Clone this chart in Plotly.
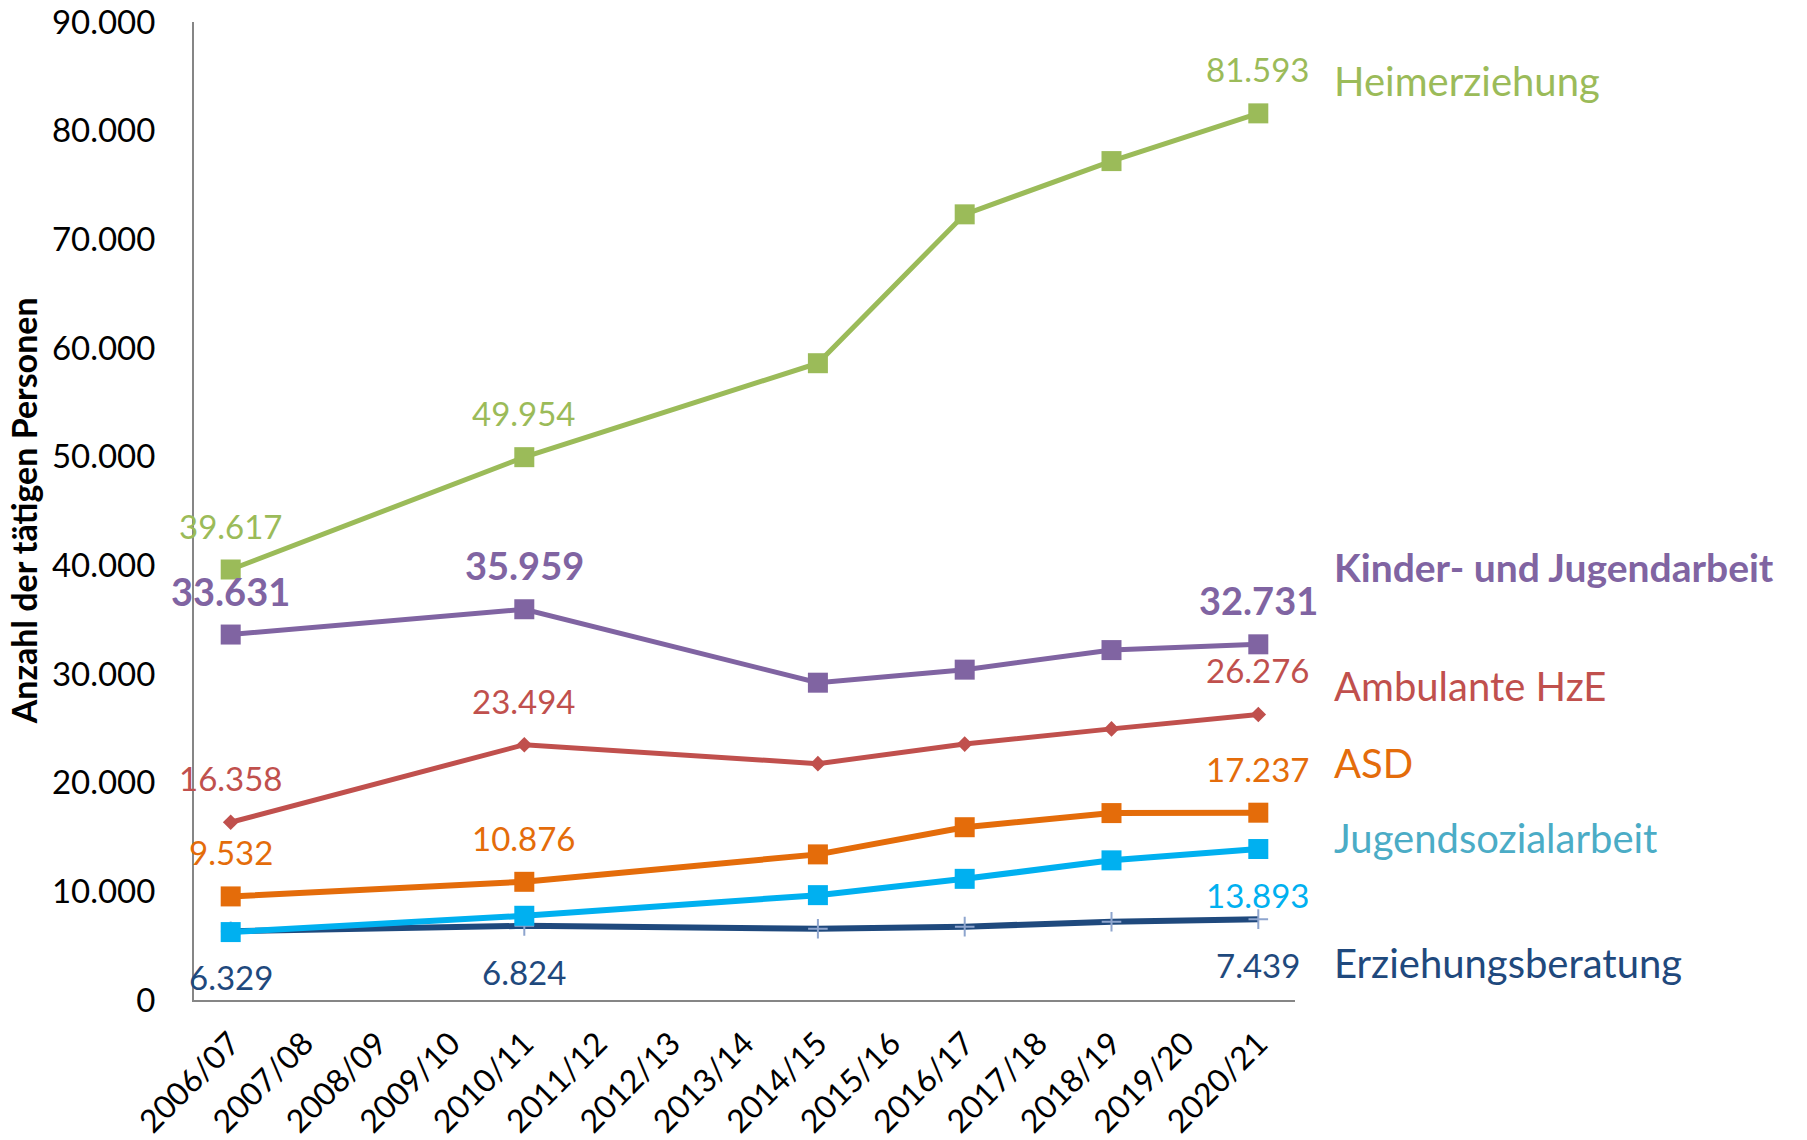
import plotly.graph_objects as go

# school years on the x axis
years = ["2006/07", "2007/08", "2008/09", "2009/10", "2010/11", "2011/12", "2012/13",
         "2013/14", "2014/15", "2015/16", "2016/17", "2017/18", "2018/19", "2019/20", "2020/21"]

# persons employed per field (None = no survey that year)
heimerziehung = [39617, None, None, None, 49954, None, None, None, 58600, None, 72300, None, 77200, None, 81593]
kinder_jugendarbeit = [33631, None, None, None, 35959, None, None, None, 29200, None, 30400, None, 32200, None, 32731]
ambulante_hze = [16358, None, None, None, 23494, None, None, None, 21750, None, 23550, None, 24950, None, 26276]
asd = [9532, None, None, None, 10876, None, None, None, 13400, None, 15900, None, 17200, None, 17237]
jugendsozialarbeit = [6250, None, None, None, 7750, None, None, None, 9650, None, 11150, None, 12850, None, 13893]
erziehungsberatung = [6329, None, None, None, 6824, None, None, None, 6550, None, 6750, None, 7200, None, 7439]

y_ticks = [0, 10000, 20000, 30000, 40000, 50000, 60000, 70000, 80000, 90000]

FONT = "Lato"


def de_num(v):
    return f"{v:,.0f}".replace(",", ".")


# drawing order: bottom series first so the cyan squares sit on the navy line
series = [
    dict(name="Erziehungsberatung", values=erziehungsberatung, color="#1F497D", symbol="cross-thin",
         msize=14, mline="#8EA5CE", width=6, labels=[0, 4, 14], side="below", bold=False,
         tag_color="#1F497D", tag_y=3400),
    dict(name="Jugendsozialarbeit", values=jugendsozialarbeit, color="#00B0F0", symbol="square",
         msize=20, mline=None, width=6, labels=[14], side="below", bold=False,
         tag_color="#4BACC6", tag_y=14900),
    dict(name="ASD", values=asd, color="#E46C0A", symbol="square",
         msize=20, mline=None, width=6, labels=[0, 4, 14], side="above", bold=False,
         tag_color="#E46C0A", tag_y=21800),
    dict(name="Ambulante HzE", values=ambulante_hze, color="#C0504D", symbol="diamond",
         msize=12, mline=None, width=5, labels=[0, 4, 14], side="above", bold=False,
         tag_color="#C0504D", tag_y=28900),
    dict(name="Kinder- und Jugendarbeit", values=kinder_jugendarbeit, color="#8064A2", symbol="square",
         msize=20, mline=None, width=5, labels=[0, 4, 14], side="above", bold=True,
         tag_color="#8064A2", tag_y=39850),
    dict(name="Heimerziehung", values=heimerziehung, color="#9BBB59", symbol="square",
         msize=20, mline=None, width=5, labels=[0, 4, 14], side="above", bold=False,
         tag_color="#9BBB59", tag_y=84600),
]

fig = go.Figure()
annotations = []

for s in series:
    marker = dict(symbol=s["symbol"], size=s["msize"], color=s["color"])
    if s["mline"]:
        marker["line"] = dict(color=s["mline"], width=2)
    fig.add_trace(go.Scatter(
        x=years, y=s["values"], name=s["name"], mode="lines+markers",
        connectgaps=True, line=dict(color=s["color"], width=s["width"]),
        marker=marker, cliponaxis=False, hoverinfo="x+y+name",
    ))
    # value labels
    for i in s["labels"]:
        v = s["values"][i]
        text = de_num(v)
        if s["bold"]:
            text = f"<b>{text}</b>"
        annotations.append(dict(
            x=years[i], y=v, xref="x", yref="y", text=text, showarrow=False,
            yshift=44 if s["side"] == "above" else -46,
            font=dict(family=FONT, size=38 if s["bold"] else 33, color=s["color"]),
            xanchor="center", yanchor="middle",
        ))
    # series name at right
    name = f"<b>{s['name']}</b>" if s["bold"] else s["name"]
    annotations.append(dict(
        x=1.034, y=s["tag_y"], xref="paper", yref="y", text=name, showarrow=False,
        xanchor="left", yanchor="middle",
        font=dict(family=FONT, size=39 if s["bold"] else 40, color=s["tag_color"]),
    ))

# y axis title
annotations.append(dict(
    x=-0.155, y=0.5, xref="paper", yref="paper", text="<b>Anzahl der tätigen Personen</b>",
    showarrow=False, textangle=-90, xanchor="center", yanchor="middle",
    font=dict(family=FONT, size=34, color="#000000"),
))

fig.update_layout(
    width=1807, height=1140,
    margin=dict(l=194, r=512, t=22, b=140),
    paper_bgcolor="white", plot_bgcolor="white",
    showlegend=False,
    annotations=annotations,
    font=dict(family=FONT, color="#000000"),
)

fig.update_xaxes(
    type="category", categoryorder="array", categoryarray=years,
    range=[-0.5, 14.5], showgrid=False, zeroline=False, automargin=False,
    showline=True, linecolor="#868686", linewidth=2,
    tickangle=-45, tickfont=dict(family=FONT, size=32, color="#000000"),
    ticks="outside", ticklen=10, tickcolor="rgba(0,0,0,0)",
    ticklabeloverflow="allow",
)
fig.update_yaxes(
    range=[0, 90000], tickvals=y_ticks, ticktext=[de_num(v) for v in y_ticks],
    showgrid=False, zeroline=False, automargin=False,
    showline=True, linecolor="#868686", linewidth=2,
    tickfont=dict(family=FONT, size=33, color="#000000"),
    ticks="outside", ticklen=30, tickcolor="rgba(0,0,0,0)",
    ticklabeloverflow="allow",
)

# drop the default 8px body margin so the figure fills the window exactly
fig.write_html("out.html", config={"displayModeBar": False},
               post_script="document.body.style.margin='0';")
